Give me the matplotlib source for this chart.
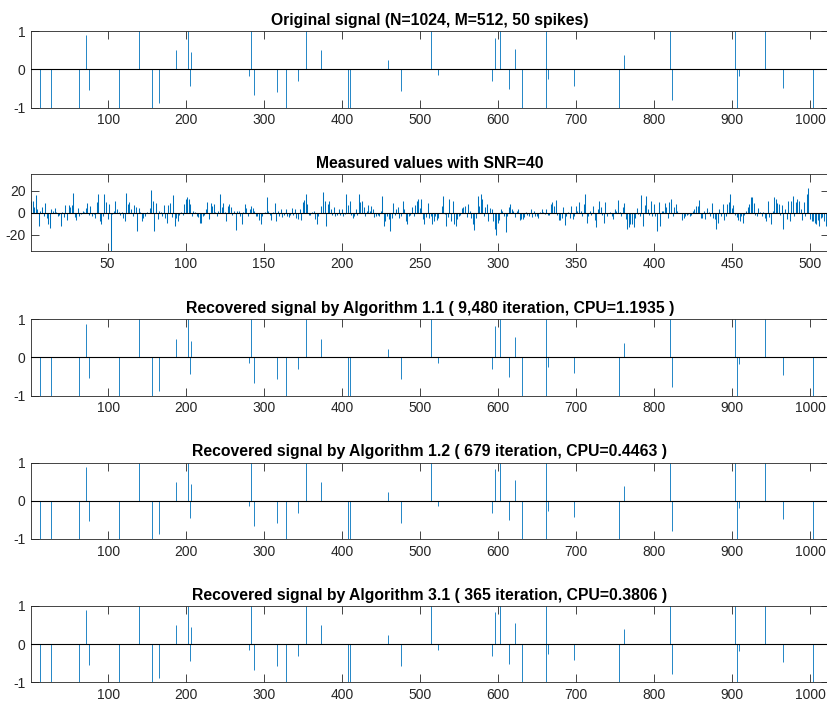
import numpy as np
import matplotlib.pyplot as plt

plt.rcParams['font.family'] = ['Liberation Sans', 'DejaVu Sans']
plt.rcParams['axes.unicode_minus'] = False

N = 1024
M = 512

# spike locations and amplitudes
spike_pos = [12, 27, 62, 71, 75, 114, 139, 156, 165, 187, 202, 205, 206, 280, 283, 287,
             316, 328, 343, 353, 373, 407, 410, 459, 476, 514, 523, 592, 596, 603, 614,
             622, 630, 661, 662, 664, 697, 755, 761, 820, 823, 904, 906, 909, 942, 966, 1004]
orig_amp = [-1, -1, -1, 0.9, -0.55, -1, 1, -1, -0.88, 0.5, 1, -0.44, 0.45, -0.16, 1, -0.68,
            -0.58, -1, -0.31, 1, 0.5, -1, -1, 0.24, -0.57, 1, -0.15, -0.31, 0.83, 1, -0.51,
            0.54, -1, 1, -1, -0.26, -0.42, -1, 0.39, 1, -0.79, 1, -1, -0.18, 1, -0.48, -1]
alg11_amp = [-1, -1, -1, 0.88, -0.53, -1, 1, -1, -0.87, 0.48, 1, -0.43, 0.44, -0.15, 1, -0.66,
             -0.57, -1, -0.3, 1, 0.48, -1, -1, 0.22, -0.56, 1, -0.14, -0.3, 0.82, 1, -0.5,
             0.53, -1, 1, -1, -0.25, -0.41, -1, 0.38, 1, -0.78, 1, -1, -0.17, 1, -0.47, -1]
alg12_amp = [-1, -1, -1, 0.89, -0.54, -1, 1, -1, -0.88, 0.49, 1, -0.44, 0.44, -0.15, 1, -0.67,
             -0.58, -1, -0.31, 1, 0.49, -1, -1, 0.23, -0.57, 1, -0.15, -0.31, 0.83, 1, -0.51,
             0.53, -1, 1, -1, -0.26, -0.42, -1, 0.39, 1, -0.79, 1, -1, -0.18, 1, -0.48, -1]
alg31_amp = [-1, -1, -1, 0.9, -0.55, -1, 1, -1, -0.88, 0.5, 1, -0.44, 0.45, -0.16, 1, -0.68,
             -0.58, -1, -0.31, 1, 0.5, -1, -1, 0.24, -0.57, 1, -0.15, -0.31, 0.83, 1, -0.51,
             0.54, -1, 1, -1, -0.26, -0.42, -1, 0.39, 1, -0.79, 1, -1, -0.18, 1, -0.48, -1]

# measured values y = A*x + noise, samples 1..512
meas_a = [11, 11, 5, 16, 3, -12, 2, 5, -3, 9,
          -5, -10, -14, 3, 2, 4, 1, -3, -2, -12,
          1, -4, 7, -7, 7, 5, 7, 18, -4, -7,
          4, -3, -1, 2, 1, 4, 9, -2, 6, -3,
          -1, -5, 10, 17, -8, -10, -3, 17, 10, -6,
          8, -35, -1, 2, 11, 3, 1, -2, 1, -5,
          -8, 18, 8, 10, 3, -3, 7, 5, -17, 4,
          1, -8, -5, -3, 1, 0, 4, 21, 11, -17,
          9, -6, 2, 1, -3, 7, -5, -9, 7, 9,
          -4, 16, -12, -5, -8, -2, 1, -2, 8, 13,
          14, 13, 8, -3, 2, 1, -3, -4, -9, -9,
          -3, -2, 3, 10, -6, 9, 6, 8, 1, -3,
          2, 17, 5, 9, 1, -8, 6, 8, 5, -2,
          2, -16, 2, 2, -3, -10, 1, 8, 4, -3,
          3, 6, 4, 2, -3, -3, -7, -10, -3, 0,
          1, 14, 2, -2, -7, 1, 9, -8, 2, -3]
meas_b = [3, -4, -2, 3, -3, -4, -2, 4, -2, 3,
          -5, -6, 3, -7, 10, 12, 17, 8, -2, -2, 1,
          2, -6, -10, -3, 0, 6, 19, 11, -12, 8,
          11, 3, -2, 5, -3, -2, 3, -2, 3, -3, -1,
          17, 7, 11, -2, -5, -3, 3, -2, 17, 10,
          11, 5, -3, 2, 7, 2, 6, 3, -4, -3, -2,
          -3, 2, 15, -12, -8, -3, -6, -17, -5, 9, -2,
          3, 5, -5, -3, 11, 3, -8, -10, -3, -2,
          5, -3, 7, 11, 13, 4, 13, -6, -10, -4, 9,
          -5, -3, -10, -8, -3, -7, -5, 0, 6, 15, -1,
          -12, -4, 13, -8, 11, -10, -12, -6, -3, -2,
          4, 5, 6, -4, 8, 2, -5, -10, -16, -5, 15,
          6, 17, 13, -3, 5, 8, -8, 4, 3, -8,
          -15, -20, -9, -7, 3, 2, -3, -18, -3, 5,
          8, 3, 2, -4, 2, 3, -7, -6, -6, -4, 1,
          -2, -3, 3, -4, 2, -3, -3, -5, 1, 3,
          1, -1]
meas_c = [3, -2, -2, 8, 10, 6, 12, -2, -7, -7,
          -5, 5, -11, -3, 1, -5, 6, -6, -3, 6, 2,
          10, 2, -3, 8, 17, -9, -3, 2, -2, 6, -7,
          -13, 3, 11, 5, -2, -9, 10, -3, 0, 1,
          -3, -6, 3, 2, 12, 1, -3, 5, 9, -6, -15,
          -13, -10, -10, -13, -5, 4, -1, -3, 16, -12, 7,
          15, 3, -2, 11, -3, 8, -3, -17, 10, -12, 2,
          2, 9, 5, -5, 10, 13, -3, 5, 8, 2,
          0, 0, -7, -5, -3, -2, -1, -3, -2, 2, 3,
          6, 6, 12, -5, -5, 2, -6, 4, 1, -3, 9,
          -5, -6, -15, -9, 3, -3, 8, -7, -3, 8,
          10, 17, 4, 7, -2, -4, -7, -8, -3, -9, -2,
          2, 5, 8, 14, 14, 9, -2, -3, 4, 1, -3,
          1, -5, -8, 11, -4, -10, 2, 14, 13, 9,
          8, -2, 7, -15, 3, -6, 11, -8, 11, 15, -3,
          10, 13, 11, 3, -7, 10, -3, 17, 23, -6,
          -8, -8, -9, -10, -7, -12, -5, -4, -8, -12, -6, 11]
measured = meas_a + meas_b + meas_c
assert len(measured) == M, len(measured)

titles = ['Original signal (N=1024, M=512, 50 spikes)',
          'Measured values with SNR=40',
          'Recovered signal by Algorithm 1.1 ( 9,480 iteration, CPU=1.1935 )',
          'Recovered signal by Algorithm 1.2 ( 679 iteration, CPU=0.4463 )',
          'Recovered signal by Algorithm 3.1 ( 365 iteration, CPU=0.3806 )']

blue = '#0072BD'
dark = '#262626'

fig = plt.figure(figsize=(8.28, 7.03), dpi=100)
left = 31.1 / 828
width = (828.7 - 31.1) / 828
height = 0.1088
bottoms = [0.8468, 0.6430, 0.4371, 0.2333, 0.0294]


def style_axes(ax, xmax, xticks, yticks, ylim, title):
    ax.set_xlim(1, xmax)
    ax.set_ylim(*ylim)
    ax.set_xticks(xticks)
    ax.set_yticks(yticks)
    ax.set_yticklabels([str(t) for t in yticks])
    ax.tick_params(direction='in', top=True, right=True, length=5.5, width=0.6,
                   colors=dark, labelsize=10, pad=4)
    for s in ax.spines.values():
        s.set_color(dark)
        s.set_linewidth(0.6)
    ax.axhline(0, color='black', lw=0.8, zorder=3)
    ax.set_title(title, fontsize=11.3, fontweight='bold', pad=4.5)


spike_sets = [orig_amp, None, alg11_amp, alg12_amp, alg31_amp]
for i in range(5):
    ax = fig.add_axes([left, bottoms[i], width, height])
    if i == 1:
        xs = np.arange(1, M + 1)
        ax.vlines(xs, 0, measured, color=blue, lw=0.75)
        style_axes(ax, M, range(50, 501, 50), [-20, 0, 20], (-35, 35), titles[i])
    else:
        ax.vlines(spike_pos, 0, spike_sets[i], color=blue, lw=0.6)
        style_axes(ax, N, range(100, 1001, 100), [-1, 0, 1], (-1, 1), titles[i])

fig.savefig('out.png', dpi=100)
